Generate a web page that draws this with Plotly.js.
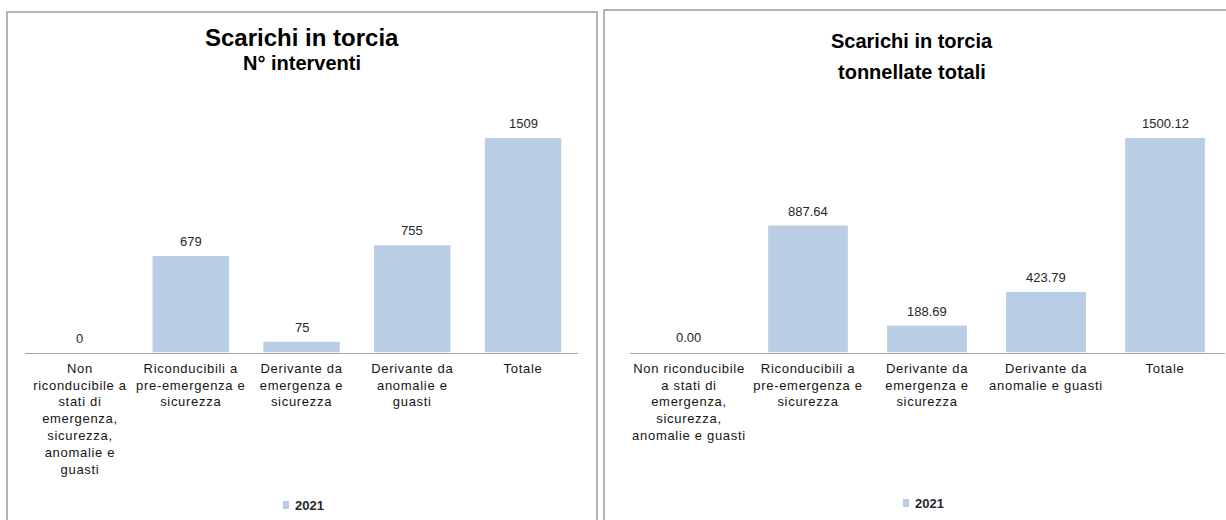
<!DOCTYPE html>
<html>
<head>
<meta charset="utf-8">
<script src="https://cdn.plot.ly/plotly-3.0.1.min.js"></script>
<style>
  html, body { margin: 0; padding: 0; background: #ffffff; }
  #chart { width: 1226px; height: 520px; }
  /* slightly looser spacing for the category labels */
  #chart .xtick text, #chart .x2tick text { letter-spacing: 0.7px; }
</style>
</head>
<body>
<div id="chart"></div>
<script>
// Categories (left panel labels wrap differently from the right panel)
const categoriesLeft = [
  "Non<br>riconducibile a<br>stati di<br>emergenza,<br>sicurezza,<br>anomalie e<br>guasti",
  "Riconducibili a<br>pre-emergenza e<br>sicurezza",
  "Derivante da<br>emergenza e<br>sicurezza",
  "Derivante da<br>anomalie e<br>guasti",
  "Totale"
];
const categoriesRight = [
  "Non riconducibile<br>a stati di<br>emergenza,<br>sicurezza,<br>anomalie e guasti",
  "Riconducibili a<br>pre-emergenza e<br>sicurezza",
  "Derivante da<br>emergenza e<br>sicurezza",
  "Derivante da<br>anomalie e guasti",
  "Totale"
];

// Values for 2021
const interventi2021 = [0, 679, 75, 755, 1509];
const tonnellate2021 = [0.00, 887.64, 188.69, 423.79, 1500.12];

const seriesName = "2021";
const barColor = "#b9cde5";
const textFont = "Liberation Sans, Arial, sans-serif";

const traces = [
  {
    type: "bar", x: categoriesLeft, y: interventi2021, name: seriesName,
    xaxis: "x", yaxis: "y", width: 0.69,
    marker: { color: barColor }, showlegend: false, hoverinfo: "x+y"
  },
  {
    type: "bar", x: categoriesRight, y: tonnellate2021, name: seriesName,
    xaxis: "x2", yaxis: "y2", width: 0.67,
    marker: { color: barColor }, showlegend: false, hoverinfo: "x+y"
  }
];

// Value labels above each bar
const valueLabels = [];
interventi2021.forEach((v, i) => valueLabels.push({
  xref: "x", yref: "y", x: categoriesLeft[i], y: v, text: String(v),
  showarrow: false, yanchor: "bottom", yshift: 5,
  font: { family: textFont, size: 13, color: "#262626" }
}));
tonnellate2021.forEach((v, i) => valueLabels.push({
  xref: "x2", yref: "y2", x: categoriesRight[i], y: v, text: v.toFixed(2),
  showarrow: false, yanchor: "bottom", yshift: 5,
  font: { family: textFont, size: 13, color: "#262626" }
}));

const titleAnnotations = [
  { xref: "paper", yref: "paper", x: 302 / 1226, y: 1 - 38 / 520, text: "<b>Scarichi in torcia</b>",
    showarrow: false, xanchor: "center", yanchor: "middle", font: { family: textFont, size: 24, color: "#000" } },
  { xref: "paper", yref: "paper", x: 302 / 1226, y: 1 - 63 / 520, text: "<b>N° interventi</b>",
    showarrow: false, xanchor: "center", yanchor: "middle", font: { family: textFont, size: 20, color: "#000" } },
  { xref: "paper", yref: "paper", x: 912 / 1226, y: 1 - 41 / 520, text: "<b>Scarichi in torcia</b>",
    showarrow: false, xanchor: "center", yanchor: "middle", font: { family: textFont, size: 20, color: "#000" } },
  { xref: "paper", yref: "paper", x: 912 / 1226, y: 1 - 72 / 520, text: "<b>tonnellate totali</b>",
    showarrow: false, xanchor: "center", yanchor: "middle", font: { family: textFont, size: 20, color: "#000" } }
];

// Legend entries drawn as a small swatch plus the series name
const legendAnnotations = [
  { xref: "paper", yref: "paper", x: 293 / 1226, y: 1 - 505 / 520, text: "<b>" + seriesName + "</b>",
    showarrow: false, xanchor: "left", yanchor: "middle", font: { family: textFont, size: 13, color: "#262626" } },
  { xref: "paper", yref: "paper", x: 913 / 1226, y: 1 - 503 / 520, text: "<b>" + seriesName + "</b>",
    showarrow: false, xanchor: "left", yanchor: "middle", font: { family: textFont, size: 13, color: "#262626" } }
];

const shapes = [
  // panel frames
  { type: "rect", xref: "paper", yref: "paper", x0: 7 / 1226, x1: 597 / 1226, y0: -0.02, y1: 1 - 12 / 520,
    line: { color: "#9a9a9a", width: 1.5 }, fillcolor: "rgba(0,0,0,0)" },
  { type: "rect", xref: "paper", yref: "paper", x0: 604 / 1226, x1: 1.02, y0: -0.02, y1: 1 - 10 / 520,
    line: { color: "#9a9a9a", width: 1.5 }, fillcolor: "rgba(0,0,0,0)" },
  // legend swatches
  { type: "rect", xref: "paper", yref: "paper", x0: 283 / 1226, x1: 289 / 1226, y0: 1 - 509 / 520, y1: 1 - 501 / 520,
    line: { width: 0 }, fillcolor: barColor },
  { type: "rect", xref: "paper", yref: "paper", x0: 903 / 1226, x1: 909 / 1226, y0: 1 - 507 / 520, y1: 1 - 499 / 520,
    line: { width: 0 }, fillcolor: barColor }
];

const xAxisCommon = {
  type: "category", showgrid: false, zeroline: false, showline: true,
  linecolor: "#a6a6a6", linewidth: 1.5, ticks: "", fixedrange: true,
  ticklabelstandoff: 3,
  tickfont: { family: textFont, size: 13, color: "#141414" }, automargin: false
};
const yAxisCommon = {
  showgrid: false, zeroline: false, showline: false, showticklabels: false,
  ticks: "", fixedrange: true, range: [0, 1600]
};

const layout = {
  width: 1226, height: 520,
  margin: { l: 0, r: 0, t: 0, b: 0 },
  paper_bgcolor: "#ffffff", plot_bgcolor: "rgba(0,0,0,0)",
  showlegend: false,
  xaxis: Object.assign({}, xAxisCommon, { domain: [24.6 / 1226, 578.4 / 1226], anchor: "y" }),
  yaxis: Object.assign({}, yAxisCommon, { domain: [167.5 / 520, (167.5 + 1600 * 214.5 / 1509) / 520], anchor: "x" }),
  xaxis2: Object.assign({}, xAxisCommon, { domain: [629.5 / 1226, 1224.5 / 1226], anchor: "y2" }),
  yaxis2: Object.assign({}, yAxisCommon, { domain: [167.5 / 520, (167.5 + 1600 * 214.5 / 1500.12) / 520], anchor: "x2" }),
  annotations: titleAnnotations.concat(valueLabels, legendAnnotations),
  shapes: shapes
};

Plotly.newPlot("chart", traces, layout, { displayModeBar: false, staticPlot: true });
</script>
</body>
</html>
